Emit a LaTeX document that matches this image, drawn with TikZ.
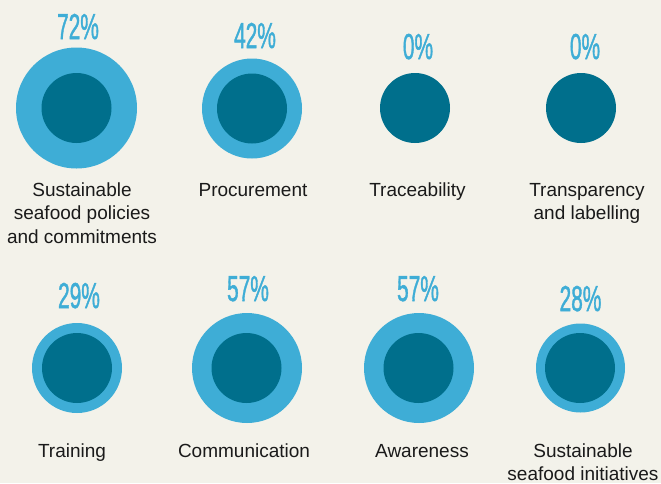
\documentclass[tikz,border=0pt]{standalone}
\usepackage{fontspec}
\usepackage{graphicx}
\setmainfont{Liberation Sans}
\newfontfamily\pctfont[FakeBold=1.6]{Liberation Sans}
\definecolor{bgcream}{RGB}{243,242,234}
\definecolor{lightblue}{RGB}{62,173,214}
\definecolor{darkteal}{RGB}{0,111,140}
\definecolor{labeltext}{RGB}{26,26,26}
\newcommand\pcttext[1]{\scalebox{0.58}[1]{\pctfont #1}}
\begin{document}
\begin{tikzpicture}[x=1pt,y=-1pt,
  outerc/.style={circle, fill=lightblue, inner sep=0pt, minimum size=#1},
  innerc/.style={circle, fill=darkteal, inner sep=0pt, minimum size=70pt},
  pct/.style={text=lightblue, font=\fontsize{36}{36}\selectfont, inner sep=0pt, anchor=base},
  lbl/.style={text=labeltext, font=\fontsize{19}{23.5}\selectfont, align=center, inner sep=0pt, anchor=base}]
\fill[bgcream] (0,0) rectangle (661,483);
\useasboundingbox (0,0) rectangle (661,483);
% top row
\node[outerc=121pt] (c1o) at (76.5,108) {};
\node[innerc] (c1i) at (76.5,108) {};
\node[outerc=100pt] (c2o) at (252,108.5) {};
\node[innerc] (c2i) at (252,108.5) {};
\node[innerc] (c3i) at (415,108) {};
\node[innerc] (c4i) at (581,108) {};
\node[pct] (p1) at (78,39) {\pcttext{72\%}};
\node[pct] (p2) at (255,48) {\pcttext{42\%}};
\node[pct] (p3) at (418,59) {\pcttext{0\%}};
\node[pct] (p4) at (585,59) {\pcttext{0\%}};
% multi-line labels: base anchor is the last line's baseline
\node[lbl] (l1) at (82,243) {Sustainable\\seafood policies\\and commitments};
\node[lbl] (l2) at (253,196) {Procurement};
\node[lbl] (l3) at (417.5,196) {Traceability};
\node[lbl] (l4) at (587,219.5) {Transparency\\and labelling};
% bottom row
\node[outerc=90pt] (c5o) at (77,368) {};
\node[innerc] (c5i) at (77,368) {};
\node[outerc=110pt] (c6o) at (247,368) {};
\node[innerc] (c6i) at (246.5,368) {};
\node[outerc=110pt] (c7o) at (419,368) {};
\node[innerc] (c7i) at (418.5,368) {};
\node[outerc=89pt] (c8o) at (580.5,368) {};
\node[innerc] (c8i) at (580,368) {};
\node[pct] (p5) at (79,308) {\pcttext{29\%}};
\node[pct] (p6) at (248,301) {\pcttext{57\%}};
\node[pct] (p7) at (418,301) {\pcttext{57\%}};
\node[pct] (p8) at (580.5,311) {\pcttext{28\%}};
\node[lbl] (l5) at (72,457) {Training};
\node[lbl] (l6) at (244,457) {Communication};
\node[lbl] (l7) at (422,457) {Awareness};
\node[lbl] (l8) at (583,480.5) {Sustainable\\seafood initiatives};
\end{tikzpicture}
\end{document}
